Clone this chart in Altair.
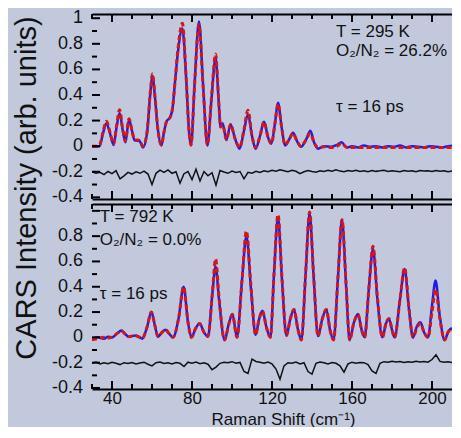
import altair as alt
import pandas as pd

FONT = "Liberation Sans"
BG = "#c2c9dd"
BLUE = "#1c1ce8"
RED = "#d41616"
INK = "#111111"

X_MIN, X_MAX = 30, 210
W, H = 360, 185

X_LABELS = [40, 80, 120, 160, 200]
X_MINOR = [30, 50, 60, 70, 90, 100, 110, 130, 140, 150, 170, 180, 190]
Y_MAJOR = [-0.4, -0.2, 0, 0.2, 0.4, 0.6, 0.8, 1.0]
Y_MINOR = [-0.3, -0.1, 0.1, 0.3, 0.5, 0.7, 0.9]
TOP_LABELS = [-0.4, -0.2, 0, 0.2, 0.4, 0.6, 0.8, 1]
TOP_LABEL_TEXT = ["-0.4", "-0.2", "0", "0.2", "0.4", "0.6", "0.8", "1"]
BOT_LABELS = [-0.4, -0.2, 0, 0.2, 0.4, 0.6, 0.8]
BOT_LABEL_TEXT = ["-0.4", "-0.2", "0", "0.2", "0.4", "0.6", "0.8"]

# ---- top panel (T = 295 K) ----
TOP_X = [30, 32, 33.8, 35.5, 37.2, 39, 40.8, 42.3, 43.8, 45.3,
         46.7, 48.5, 50, 51.3, 53.8, 55.5, 57.5, 59.2, 60.2, 61.5,
         62.8, 64.7, 66, 67.2, 69.2, 70.3, 71.5, 73, 75.2, 77,
         78.6, 79.5, 81.3, 83.5, 85.5, 87.7, 89.7, 91.8, 93.3, 94.3,
         95.3, 97.2, 99.3, 101.5, 103.8, 106, 108, 110, 111.8, 114,
         116, 118, 119.7, 121.5, 123, 124.8, 126.5, 128.5, 130.5, 132.5,
         134.5, 137, 139.2, 141, 143, 146.3, 149.7, 152.5, 154.7, 157.5,
         160, 163, 166, 169, 172, 175, 178, 181, 184, 187,
         190, 193, 196, 199, 202, 205, 208, 211, 213]
TOP_EXP = [0.0, -0.005, 0.0, 0.1, 0.18, 0.1, 0.01, 0.15, 0.26, 0.13,
           0.03, 0.21, 0.12, 0.045, 0.04, -0.01, 0.1, 0.42, 0.55, 0.38,
           0.15, 0.005, 0.11, 0.19, 0.23, 0.3, 0.5, 0.74, 0.92, 0.55,
           0.1, 0.005, 0.49, 0.975, 0.49, 0.005, 0.36, 0.69, 0.36, 0.15,
           0.18, 0.05, 0.17, 0.06, -0.02, 0.12, 0.25, 0.08, -0.02, 0.08,
           0.19, 0.07, 0.02, 0.18, 0.34, 0.15, 0.005, 0.05, 0.105, 0.04,
           -0.005, 0.05, 0.12, 0.03, -0.02, 0.0, -0.005, 0.01, 0.03, -0.01,
           0.0, -0.01, 0.005, -0.005, 0.0, -0.01, 0.0, -0.005, 0.005, -0.01,
           0.0, -0.005, -0.01, 0.0, -0.005, -0.01, 0.0, 0.005, -0.005]
TOP_FIT = [0.0, 0.0, 0.01, 0.11, 0.195, 0.11, 0.02, 0.16, 0.285, 0.14,
           0.04, 0.215, 0.12, 0.05, 0.045, 0.0, 0.11, 0.43, 0.565, 0.39,
           0.15, 0.01, 0.11, 0.19, 0.23, 0.3, 0.5, 0.76, 0.96, 0.56,
           0.1, 0.01, 0.48, 0.95, 0.48, 0.01, 0.37, 0.72, 0.37, 0.15,
           0.17, 0.05, 0.17, 0.06, -0.01, 0.13, 0.28, 0.08, -0.01, 0.08,
           0.19, 0.07, 0.02, 0.18, 0.33, 0.15, 0.01, 0.05, 0.1, 0.04,
           0.0, 0.05, 0.1, 0.03, -0.01, -0.005, -0.01, 0.0, 0.02, -0.01,
           -0.01, -0.01, -0.01, -0.01, -0.01, -0.01, -0.01, -0.01, -0.01, -0.01,
           -0.01, -0.01, -0.01, -0.01, -0.01, -0.01, -0.01, -0.01, -0.01]

RES_X = list(range(30, 213, 2))
TOP_RES = [-0.200, -0.212, -0.205, -0.222, -0.198, -0.215, -0.192, -0.255, -0.232, -0.205,
           -0.218, -0.200, -0.212, -0.195, -0.218, -0.300, -0.212, -0.188, -0.205, -0.185,
           -0.212, -0.200, -0.290, -0.215, -0.198, -0.262, -0.180, -0.272, -0.198, -0.232,
           -0.208, -0.305, -0.190, -0.202, -0.212, -0.195, -0.205, -0.198, -0.255, -0.205,
           -0.212, -0.196, -0.205, -0.192, -0.200, -0.188, -0.196, -0.184, -0.192, -0.200,
           -0.188, -0.196, -0.215, -0.200, -0.190, -0.198, -0.203, -0.192, -0.198, -0.188,
           -0.196, -0.185, -0.195, -0.200, -0.190, -0.196, -0.188, -0.198, -0.192, -0.200,
           -0.190, -0.197, -0.193, -0.188, -0.198, -0.192, -0.196, -0.200, -0.191, -0.196,
           -0.192, -0.199, -0.190, -0.195, -0.193, -0.198, -0.190, -0.196, -0.193, -0.199,
           -0.194, -0.196]

# ---- bottom panel (T = 792 K) ----
BOT_X = [30, 33, 36, 38, 40, 42.5, 44.7, 47, 48.5, 50,
         52, 55.2, 57.5, 59.7, 61.5, 63, 65, 66.8, 68.5, 70.5,
         73.3, 75.8, 78, 79.7, 81.8, 83.8, 86, 88, 90.2, 91.8,
         93.5, 96.3, 98.3, 100.2, 102.5, 105, 107.2, 109.5, 111.8, 113.5,
         115.2, 117.2, 119.2, 121, 123, 125, 127.2, 129.2, 131, 133,
         134.7, 136.8, 138.8, 140.8, 143, 145.2, 147.2, 149, 150.8, 153,
         155, 157, 158.8, 161, 163, 164.8, 166.3, 168.5, 170.5, 172.7,
         175.2, 177, 178.5, 180, 181.3, 184, 186.3, 188.5, 190.5, 192.5,
         194.2, 196, 198, 200, 201.8, 203.8, 206.3, 208, 209.7, 211.5, 213]
BOT_EXP = [-0.01, 0.0, -0.01, 0.005, 0.0, 0.03, 0.055, 0.02, 0.005, 0.01,
           0.015, -0.01, 0.08, 0.2, 0.09, 0.005, 0.04, 0.06, 0.03, 0.0,
           0.15, 0.40, 0.12, 0.0, 0.07, 0.11, 0.04, 0.005, 0.35, 0.56,
           0.3, -0.02, 0.1, 0.185, 0.0, 0.45, 0.80, 0.38, 0.02, 0.14,
           0.21, 0.08, 0.0, 0.5, 0.95, 0.45, 0.015, 0.15, 0.22, 0.06,
           -0.02, 0.5, 0.98, 0.48, 0.01, 0.15, 0.22, 0.06, -0.02, 0.48,
           0.93, 0.42, -0.02, 0.12, 0.185, 0.06, 0.0, 0.4, 0.70, 0.3,
           0.0, 0.11, 0.145, 0.06, 0.0, 0.3, 0.54, 0.22, 0.0, 0.09,
           0.12, 0.04, 0.0, 0.25, 0.45, 0.18, -0.02, 0.04, 0.07, 0.03, 0.0]
BOT_FIT = [-0.02, -0.01, 0.0, -0.005, 0.0, 0.03, 0.05, 0.02, 0.005, 0.01,
           0.01, -0.005, 0.08, 0.2, 0.09, 0.005, 0.04, 0.06, 0.03, 0.0,
           0.15, 0.40, 0.12, 0.0, 0.07, 0.11, 0.04, 0.01, 0.35, 0.62,
           0.32, -0.02, 0.1, 0.18, 0.0, 0.45, 0.84, 0.4, 0.02, 0.14,
           0.21, 0.08, 0.0, 0.5, 0.97, 0.47, 0.015, 0.15, 0.22, 0.06,
           -0.02, 0.5, 0.99, 0.5, 0.01, 0.15, 0.22, 0.06, -0.02, 0.48,
           0.93, 0.44, -0.02, 0.12, 0.18, 0.06, 0.0, 0.4, 0.72, 0.32,
           0.0, 0.11, 0.15, 0.06, 0.0, 0.3, 0.55, 0.23, 0.0, 0.08,
           0.11, 0.04, 0.0, 0.2, 0.38, 0.16, -0.02, 0.04, 0.07, 0.03, 0.0]
BOT_RES = [-0.205, -0.195, -0.210, -0.200, -0.208, -0.196, -0.204, -0.215, -0.200, -0.207,
           -0.198, -0.210, -0.202, -0.196, -0.212, -0.225, -0.200, -0.195, -0.206, -0.200,
           -0.210, -0.198, -0.205, -0.230, -0.196, -0.204, -0.195, -0.208, -0.200, -0.212,
           -0.255, -0.235, -0.205, -0.196, -0.200, -0.192, -0.205, -0.198, -0.270, -0.285,
           -0.172, -0.190, -0.196, -0.205, -0.195, -0.210, -0.250, -0.330, -0.225, -0.200,
           -0.205, -0.195, -0.210, -0.200, -0.270, -0.290, -0.205, -0.195, -0.200, -0.210,
           -0.198, -0.205, -0.225, -0.275, -0.210, -0.196, -0.204, -0.198, -0.200, -0.215,
           -0.265, -0.285, -0.205, -0.192, -0.196, -0.188, -0.195, -0.190, -0.198, -0.192,
           -0.196, -0.188, -0.194, -0.190, -0.196, -0.175, -0.138, -0.190, -0.196, -0.192,
           -0.198, -0.194]

TOP_NOTES = ["T = 295 K", "O\u2082/N\u2082 = 26.2%", "\u03c4 = 16 ps"]
TOP_NOTE_X = [152, 152, 152]
TOP_NOTE_Y = [0.893, 0.741, 0.305]
BOT_NOTES = ["T = 792 K", "O\u2082/N\u2082 = 0.0%", "\u03c4 = 16 ps"]
BOT_NOTE_X = [33.9, 33.9, 33.9]
BOT_NOTE_Y = [0.954, 0.767, 0.344]

TOP_YDOM = [-0.413, 1.033]
BOT_YDOM = [-0.408, 1.054]

Y_TITLE = "CARS Intensity (arb. units)"
X_TITLE = "Raman Shift (cm\u207b\u00b9)"


def panel(xs, exp, fit, res, ydom, ylabels, ytext, nx, ny, nt, bottom):
    xscale = alt.Scale(domain=[X_MIN, X_MAX], nice=False, zero=False)
    yscale = alt.Scale(domain=ydom, nice=False, zero=False)
    spec = pd.DataFrame({"x": xs, "exp": exp, "fit": fit})
    rdf = pd.DataFrame({"x": RES_X, "r": res})
    notes = pd.DataFrame({"x": nx, "y": ny, "t": nt})
    labs = pd.DataFrame({"v": ylabels, "t": ytext})

    yaxis = alt.Axis(orient="left", labels=False, ticks=False, grid=False, title=None,
                     domainColor="black", domainWidth=2)
    if bottom:
        xaxis = alt.Axis(orient="bottom", values=X_LABELS, ticks=False, grid=False,
                         domainColor="black", domainWidth=2, labelFontSize=17,
                         labelColor=INK, labelPadding=1, title=X_TITLE,
                         titleFontSize=17, titleFontWeight="normal", titleColor=INK,
                         titleX=191, titleY=35, titleAlign="center",
                         titleBaseline="alphabetic")
    else:
        xaxis = alt.Axis(orient="bottom", labels=False, ticks=False, grid=False,
                         domainColor="black", domainWidth=2, title=None)

    exp_line = alt.Chart(spec).mark_line(color=BLUE, strokeWidth=2.5,
                                         interpolate="monotone", clip=True).encode(
        x=alt.X("x:Q", scale=xscale, axis=xaxis),
        y=alt.Y("exp:Q", scale=yscale, axis=yaxis))
    fit_line = alt.Chart(spec).mark_line(color=RED, strokeWidth=3, strokeDash=[5, 3],
                                         interpolate="monotone", clip=True).encode(
        x=alt.X("x:Q", scale=xscale, axis=None),
        y=alt.Y("fit:Q", scale=yscale, axis=None))
    res_line = alt.Chart(rdf).mark_line(color=INK, strokeWidth=1.5, clip=True).encode(
        x=alt.X("x:Q", scale=xscale, axis=None),
        y=alt.Y("r:Q", scale=yscale, axis=None))
    txt = alt.Chart(notes).mark_text(align="left", baseline="middle", fontSize=17,
                                     font=FONT, color=INK, clip=True).encode(
        x=alt.X("x:Q", scale=xscale, axis=None),
        y=alt.Y("y:Q", scale=yscale, axis=None),
        text="t:N")
    ylab = alt.Chart(labs).mark_text(align="right", baseline="middle", fontSize=18,
                                     font=FONT, color=INK).encode(
        x=alt.value(-9),
        y=alt.Y("v:Q", scale=yscale, axis=None),
        text="t:N")

    def xt(vals, length, top, axis=None):
        d = pd.DataFrame({"v": vals})
        if top:
            yy, yy2 = alt.value(0), alt.value(length)
        else:
            yy, yy2 = alt.value(H), alt.value(H - length)
        return alt.Chart(d).mark_rule(color="black", strokeWidth=2).encode(
            x=alt.X("v:Q", scale=xscale, axis=axis), y=yy, y2=yy2)

    def yt(vals, length):
        d = pd.DataFrame({"v": vals})
        return alt.Chart(d).mark_rule(color="black", strokeWidth=2).encode(
            y=alt.Y("v:Q", scale=yscale, axis=None), x=alt.value(0), x2=alt.value(length))

    top_axis = alt.Axis(orient="top", labels=False, ticks=False, grid=False,
                        domainColor="black", domainWidth=2, title=None)
    layers = [exp_line, fit_line, res_line, txt, ylab,
              xt(X_LABELS, 8, False), xt(X_MINOR, 5, False),
              xt(X_LABELS, 8, True), yt(Y_MAJOR, 8), yt(Y_MINOR, 5)]
    if not bottom:
        ttl = alt.Chart(pd.DataFrame({"t": [Y_TITLE]})).mark_text(
            angle=270, align="center", baseline="alphabetic", fontSize=29,
            font=FONT, color=INK).encode(x=alt.value(-56), y=alt.value(174), text="t:N")
        layers.append(ttl)
    layers.append(xt(X_MINOR, 5, True, top_axis))
    return alt.layer(*layers).resolve_axis(x="independent").properties(width=W, height=H)


top = panel(TOP_X, TOP_EXP, TOP_FIT, TOP_RES, TOP_YDOM, TOP_LABELS, TOP_LABEL_TEXT,
            TOP_NOTE_X, TOP_NOTE_Y, TOP_NOTES, False)
bot = panel(BOT_X, BOT_EXP, BOT_FIT, BOT_RES, BOT_YDOM, BOT_LABELS, BOT_LABEL_TEXT,
            BOT_NOTE_X, BOT_NOTE_Y, BOT_NOTES, True)

chart = alt.vconcat(top, bot, spacing=5, bounds="flush").properties(
    background=BG, padding={"left": 4, "top": 1, "right": 0, "bottom": 0}
).configure_view(strokeWidth=0).configure_axis(labelFont=FONT, titleFont=FONT)

chart.save("out.html", embed_options={"renderer": "svg", "actions": False})
